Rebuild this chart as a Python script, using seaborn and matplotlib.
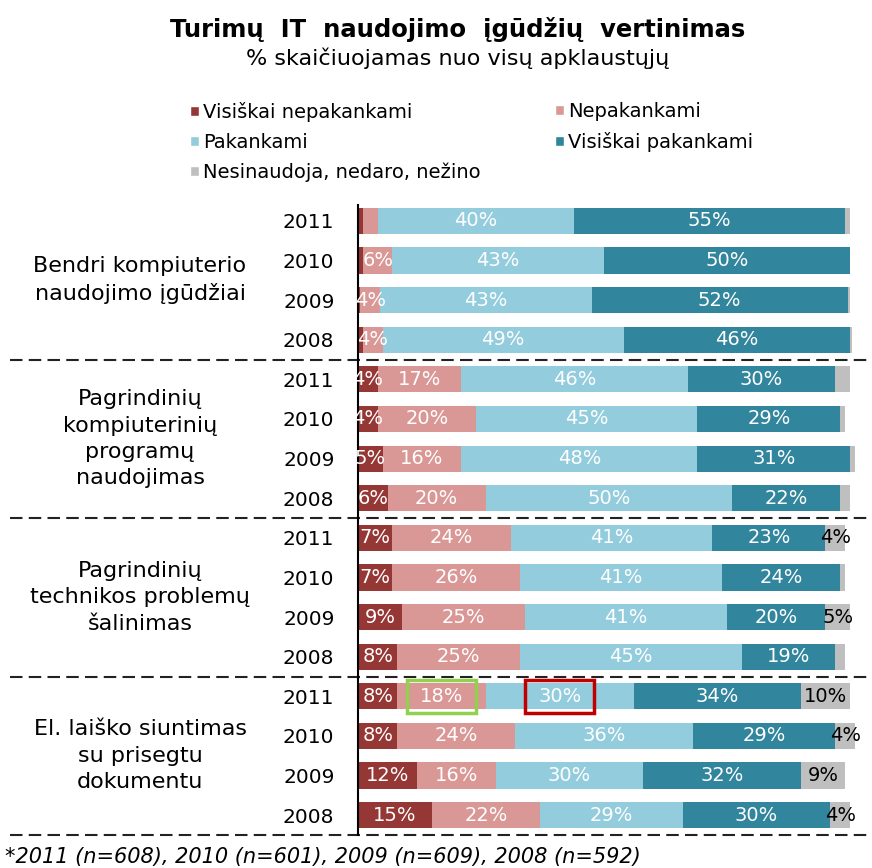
import numpy as np
import pandas as pd
import matplotlib.pyplot as plt
import matplotlib.transforms as mtransforms
import seaborn as sns
from matplotlib.patches import Patch, Rectangle

# chart values
groups = ['Bendri kompiuterio\nnaudojimo įgūdžiai',
          'Pagrindinių\nkompiuterinių\nprogramų\nnaudojimas',
          'Pagrindinių\ntechnikos problemų\nšalinimas',
          'El. laiško siuntimas\nsu prisegtu\ndokumentu']
years = ['2011', '2010', '2009', '2008']
categories = ['Visiškai nepakankami', 'Nepakankami', 'Pakankami',
              'Visiškai pakankami', 'Nesinaudoja, nedaro, nežino']
colors = ['#953735', '#D99795', '#93CDDD', '#31859C', '#BFBFBF']

visiskai_nepakankami = [1, 1, 0.5, 1, 4, 4, 5, 6, 7, 7, 9, 8, 8, 8, 12, 15]
nepakankami = [3, 6, 4, 4, 17, 20, 16, 20, 24, 26, 25, 25, 18, 24, 16, 22]
pakankami = [40, 43, 43, 49, 46, 45, 48, 50, 41, 41, 41, 45, 30, 36, 30, 29]
visiskai_pakankami = [55, 50, 52, 46, 30, 29, 31, 22, 23, 24, 20, 19, 34, 29, 32, 30]
nesinaudoja = [1, 0, 0.5, 0.5, 3, 1, 1, 2, 4, 1, 5, 2, 10, 4, 9, 4]

# highlighted labels in the last block: (row, category, colour)
highlights = [(12, 1, '#92D050'), (12, 2, '#C00000')]

title = 'Turimų  IT  naudojimo  įgūdžių  vertinimas'
subtitle = '% skaičiuojamas nuo visų apklaustųjų'
footnote = '*2011 (n=608), 2010 (n=601), 2009 (n=609), 2008 (n=592)'

rows = [f'{g}-{y}' for g in range(len(groups)) for y in years]
df = pd.DataFrame({'row': rows,
                   categories[0]: visiskai_nepakankami,
                   categories[1]: nepakankami,
                   categories[2]: pakankami,
                   categories[3]: visiskai_pakankami,
                   categories[4]: nesinaudoja})
cum = df[categories].cumsum(axis=1)
cum['row'] = df['row']

sns.set_style('white')
plt.rcParams['font.family'] = ['DejaVu Sans']
plt.rcParams['text.color'] = 'black'
plt.rcParams['ytick.color'] = 'black'

W, H = 872, 868
fig = plt.figure(figsize=(W / 100, H / 100), dpi=100)
ax = fig.add_axes([358 / W, 1 - 835 / H, (870 - 358) / W, (835 - 205) / H])

# stacked bars: draw cumulative totals, widest first
for cat, col in reversed(list(zip(categories, colors))):
    sns.barplot(data=cum, x=cat, y='row', order=rows, orient='h', color=col,
                saturation=1, width=0.66, errorbar=None, linewidth=0, ax=ax)

# value labels
for i in range(len(rows)):
    for j, cat in enumerate(categories):
        v = df.loc[i, cat]
        if v < 4:
            continue
        xc = cum.loc[i, cat] - v / 2
        tc = 'black' if j == 4 else 'white'
        ax.text(xc, i, f'{v:.0f}%', ha='center', va='center', color=tc, fontsize=14)

for i, j, ec in highlights:
    v = df.loc[i, categories[j]]
    xc = cum.loc[i, categories[j]] - v / 2
    ax.add_patch(Rectangle((xc - 7, i - 0.42), 14, 0.84, fill=False, ec=ec, lw=2.5, zorder=5))

ax.set_xlim(0, 100 * 512 / 492)
ax.set_ylim(len(rows) - 0.5, -0.4)
ax.set_xticks([])
ax.set_yticks(range(len(rows)))
ax.set_yticklabels(years * len(groups), fontsize=14.5)
ax.tick_params(axis='y', length=0, pad=17)
ax.set_xlabel('')
ax.set_ylabel('')
for s in ['top', 'right', 'bottom']:
    ax.spines[s].set_visible(False)
ax.spines['left'].set_color('black')
ax.spines['left'].set_linewidth(1.5)

# dashed separators between blocks, running under the group labels too
trans = mtransforms.blended_transform_factory(fig.transFigure, ax.transData)
for k in range(1, len(groups) + 1):
    yy = k * len(years) - 0.5
    ax.plot([10 / W, 870 / W], [yy, yy], transform=trans, color='#222222', lw=1.5,
            ls=(0, (6, 3)), clip_on=False)

for k, g in enumerate(groups):
    yc = k * len(years) + (len(years) - 1) / 2
    ax.text(140 / W, yc, g, transform=trans, ha='center', va='center',
            fontsize=16, linespacing=1.4)

fig.text(458 / W, 1 - 30 / H, title, ha='center', va='center', fontsize=17.5, weight='bold')
fig.text(458 / W, 1 - 58 / H, subtitle, ha='center', va='center', fontsize=16)
fig.text(5 / W, 1 - 857 / H, footnote, ha='left', va='center', fontsize=15, style='italic')

handles = [Patch(facecolor=c, label=l) for c, l in zip(colors, categories)]
common = dict(frameon=False, borderpad=0, borderaxespad=0, handlelength=0.45,
              handleheight=0.45, handletextpad=0.2, labelspacing=0.55, fontsize=14,
              loc='upper left')
fig.legend(handles=[handles[0], handles[2], handles[4]],
           bbox_to_anchor=(190 / W, 1 - 102 / H), **common)
fig.legend(handles=[handles[1], handles[3]],
           bbox_to_anchor=(555 / W, 1 - 102 / H), **common)

fig.savefig('out.png', dpi=100)
